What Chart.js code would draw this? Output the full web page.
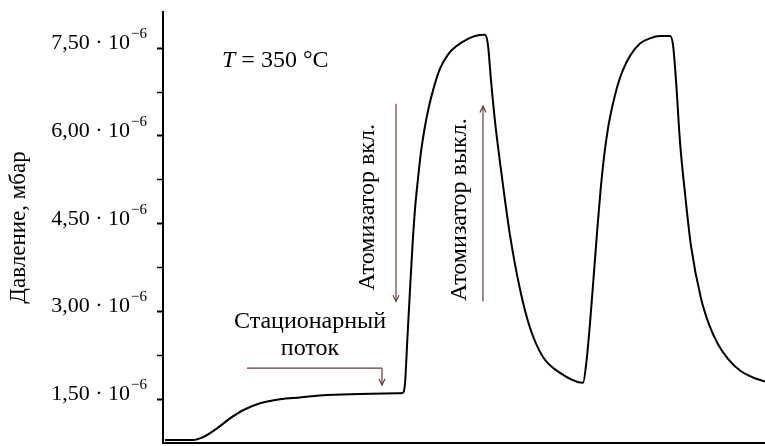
<!DOCTYPE html>
<html>
<head>
<meta charset="utf-8">
<script src="https://cdn.jsdelivr.net/npm/chart.js@4"></script>
<style>
    html, body { margin: 0; padding: 0; background: #fff; }
    #wrap { width: 765px; height: 446px; }
</style>
</head>
<body>
<div id="wrap"><canvas id="pressure-chart"></canvas></div>
<script>
// time in arbitrary units, pressure in 10^-6 mbar
var timeVals = [2, 30, 40, 54, 67, 80, 97, 117, 137, 164, 197, 235, 240, 242, 244.5, 247, 249.5, 252, 255, 258, 261.5, 265.5,
    270.5, 277, 285.3, 293.7, 305, 312, 322, 325, 328, 332, 337, 342, 347, 357, 367, 380, 397, 420,
    423.5, 427, 430.5, 434, 437.5, 441, 445, 449.5, 454.5, 459.5, 467, 477, 487, 497, 507,
    510, 513, 517, 522, 528, 538, 546, 555, 565, 577, 590, 602];
var pressureVals = [0.80, 0.80, 0.85, 1.00, 1.17, 1.31, 1.43, 1.50, 1.53, 1.57, 1.59, 1.60, 1.61, 1.77, 2.57, 3.37, 4.13, 4.75, 5.27, 5.73, 6.12, 6.47,
    6.81, 7.15, 7.40, 7.54, 7.66, 7.71, 7.73, 7.55, 6.95, 6.25, 5.55, 4.90, 4.30, 3.38, 2.72, 2.22, 1.95, 1.78,
    2.15, 2.80, 3.56, 4.34, 5.06, 5.64, 6.13, 6.52, 6.86, 7.11, 7.37, 7.58, 7.67, 7.71, 7.71,
    7.56, 6.95, 5.90, 5.02, 4.12, 3.22, 2.78, 2.44, 2.19, 1.99, 1.87, 1.80];
var yTicks = [1.5, 2.25, 3.0, 3.75, 4.5, 5.25, 6.0, 6.75, 7.5];
var yTickLabels = ['1,50', '3,00', '4,50', '6,00', '7,50'];

var serif = '"Liberation Serif", "DejaVu Serif", serif';
var arrowColor = '#6b3a3a';

let points = timeVals.map(function(t, i) {
    return { x: t, y: pressureVals[i] };
});

function drawArrow(ctx, x1, y1, x2, y2) {
    ctx.beginPath();
    ctx.moveTo(x1, y1);
    ctx.lineTo(x2, y2);
    ctx.stroke();
    var ang = Math.atan2(y2 - y1, x2 - x1);
    ctx.beginPath();
    ctx.moveTo(x2 - 7 * Math.cos(ang - 0.45), y2 - 7 * Math.sin(ang - 0.45));
    ctx.lineTo(x2, y2);
    ctx.lineTo(x2 - 7 * Math.cos(ang + 0.45), y2 - 7 * Math.sin(ang + 0.45));
    ctx.stroke();
}

// tick labels with exponent and the annotations
var labelPlugin = {
    id: 'labels',
    afterDraw: function(chart) {
        var ctx = chart.ctx;
        var xs = chart.scales.x, ys = chart.scales.y;
        ctx.save();
        ctx.fillStyle = '#000';
        ctx.textBaseline = 'alphabetic';
        ctx.textAlign = 'right';
        yTickLabels.forEach(function(lbl, i) {
            var py = ys.getPixelForValue(1.5 * (i + 1));
            var right = ys.right - 16;
            ctx.font = '15px ' + serif;
            var w = ctx.measureText('\u22126').width;
            ctx.fillText('\u22126', right, py - 10);
            ctx.font = '22px ' + serif;
            ctx.fillText(lbl + ' \u00b7 10', right - w - 1, py + 1);
        });

        ctx.textAlign = 'left';
        ctx.font = 'italic 24px ' + serif;
        var tx = xs.getPixelForValue(59), ty = ys.getPixelForValue(7.18);
        ctx.fillText('T', tx, ty);
        var tw = ctx.measureText('T').width;
        ctx.font = '24px ' + serif;
        ctx.fillText(' = 350 \u00b0C', tx + tw, ty);

        ctx.textAlign = 'center';
        ctx.fillText('Стационарный', xs.getPixelForValue(147), ys.getPixelForValue(2.72));
        ctx.fillText('поток', xs.getPixelForValue(147), ys.getPixelForValue(2.255));

        ctx.save();
        ctx.translate(xs.getPixelForValue(205), ys.getPixelForValue(4.78));
        ctx.rotate(-Math.PI / 2);
        ctx.textBaseline = 'middle';
        ctx.fillText('Атомизатор вкл.', 0, 0);
        ctx.restore();
        ctx.save();
        ctx.translate(xs.getPixelForValue(297), ys.getPixelForValue(4.74));
        ctx.rotate(-Math.PI / 2);
        ctx.textBaseline = 'middle';
        ctx.fillText('Атомизатор выкл.', 0, 0);
        ctx.restore();

        ctx.strokeStyle = arrowColor;
        ctx.lineWidth = 1.2;
        var ay = ys.getPixelForValue(2.03);
        ctx.beginPath();
        ctx.moveTo(xs.getPixelForValue(84), ay);
        ctx.lineTo(xs.getPixelForValue(219), ay);
        ctx.stroke();
        drawArrow(ctx, xs.getPixelForValue(219), ay, xs.getPixelForValue(219), ys.getPixelForValue(1.74));
        drawArrow(ctx, xs.getPixelForValue(233), ys.getPixelForValue(6.55), xs.getPixelForValue(233), ys.getPixelForValue(3.17));
        drawArrow(ctx, xs.getPixelForValue(320), ys.getPixelForValue(3.17), xs.getPixelForValue(320), ys.getPixelForValue(6.51));
        ctx.restore();
    }
};

var myChart = new Chart(document.getElementById('pressure-chart').getContext('2d'), {
    type: 'line',
    data: {
        datasets: [{
            data: points,
            borderColor: '#000',
            borderWidth: 2,
            pointRadius: 0,
            fill: false,
            cubicInterpolationMode: 'monotone'
        }]
    },
    options: {
        responsive: true,
        maintainAspectRatio: false,
        animation: false,
        layout: { padding: { top: 12, right: 0, bottom: 3, left: 0 } },
        plugins: { legend: { display: false }, tooltip: { enabled: false } },
        scales: {
            x: {
                type: 'linear',
                min: 0,
                max: 602,
                afterFit: function(scale) {
                    scale.height = 0;
                },
                ticks: { display: false },
                grid: { display: false },
                border: { display: true, color: '#000', width: 2 }
            },
            y: {
                min: 0.75,
                max: 8.12,
                afterBuildTicks: function(scale) {
                    scale.ticks = yTicks.map(function(v) { return { value: v }; });
                },
                afterFit: function(scale) {
                    scale.width = 163;
                },
                ticks: { display: false },
                grid: {
                    drawOnChartArea: false,
                    tickLength: 6,
                    tickColor: '#000',
                    tickWidth: function(c) { return c.tick && c.tick.value % 1.5 === 0 ? 2 : 1.5; }
                },
                border: { display: true, color: '#000', width: 2 },
                title: {
                    display: true,
                    text: 'Давление, мбар',
                    color: '#000',
                    font: { family: serif, size: 23 },
                    padding: { top: 5, bottom: 0 }
                }
            }
        }
    },
    plugins: [labelPlugin]
});
</script>
</body>
</html>
